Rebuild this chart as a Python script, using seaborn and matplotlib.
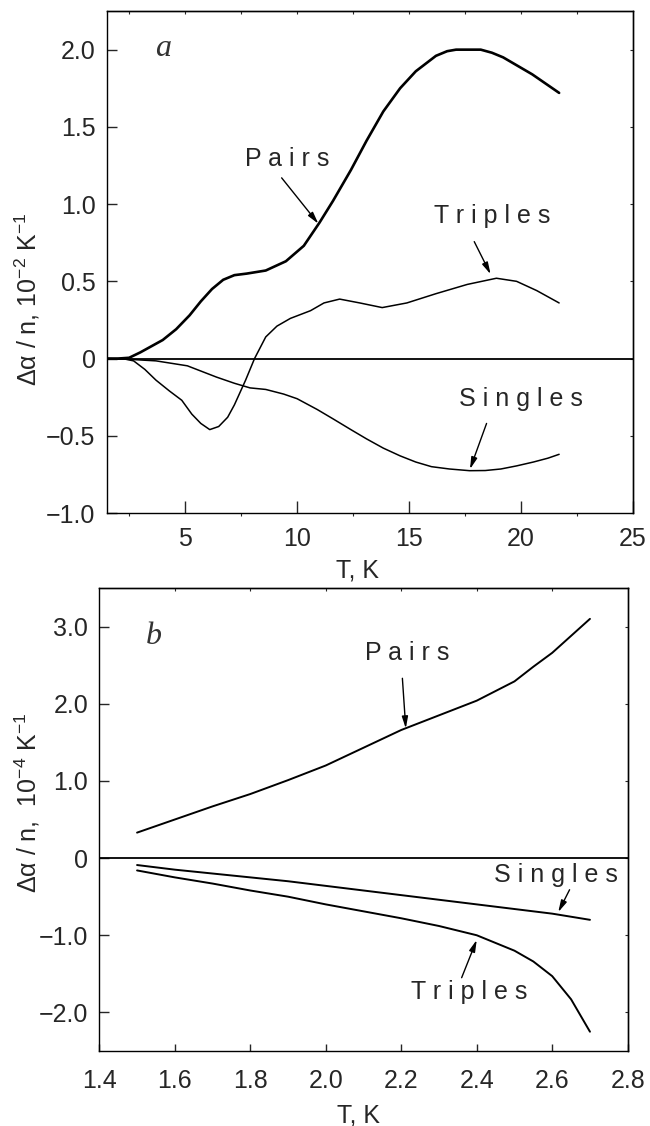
import numpy as np
import pandas as pd
import matplotlib
matplotlib.use("Agg")
import matplotlib.pyplot as plt
import seaborn as sns

# ---------------- data: panel a ----------------
a_pairs_T = [1.5, 2.0, 2.5, 3.0, 3.5, 4.0, 4.6, 5.2, 5.7, 6.2, 6.7, 7.2, 7.75, 8.6, 9.5,
             10.3, 11.0, 11.6, 12.4, 13.1, 13.85, 14.6, 15.3, 16.2, 16.7, 17.1, 18.2, 18.7,
             19.2, 20.5, 21.7]
a_pairs_v = [0.0, 0.0, 0.005, 0.04, 0.08, 0.12, 0.19, 0.28, 0.37, 0.45, 0.51, 0.54, 0.55, 0.57, 0.63,
             0.73, 0.88, 1.02, 1.22, 1.41, 1.60, 1.75, 1.86, 1.96, 1.99, 2.0, 2.0, 1.98,
             1.95, 1.84, 1.72]

a_trip_T = [1.5, 2.2, 2.7, 3.2, 3.7, 4.3, 4.85, 5.3, 5.7, 6.1, 6.5, 6.9, 7.2, 7.7, 8.1, 8.6, 9.1,
            9.7, 10.6, 11.2, 11.9, 12.8, 13.8, 14.9, 16.2, 17.6, 18.9, 19.8, 20.7, 21.7]
a_trip_v = [0.0, 0.0, -0.015, -0.07, -0.14, -0.21, -0.27, -0.36, -0.42, -0.46, -0.44, -0.38, -0.30,
            -0.14, 0.0, 0.14, 0.21, 0.26, 0.31, 0.36, 0.385, 0.36, 0.33, 0.36, 0.42, 0.48, 0.52,
            0.50, 0.44, 0.36]

a_sing_T = [1.5, 2.5, 3.7, 5.1, 6.4, 7.2, 7.9, 8.6, 9.4, 10.0, 10.9, 11.6, 12.4, 13.1, 13.85,
            14.6, 15.3, 16.0, 16.8, 17.7, 18.4, 19.1, 19.8, 20.55, 21.2, 21.7]
a_sing_v = [0.0, -0.005, -0.015, -0.047, -0.12, -0.16, -0.19, -0.20, -0.23, -0.26, -0.33, -0.39,
            -0.46, -0.52, -0.58, -0.63, -0.67, -0.70, -0.715, -0.726, -0.725, -0.715, -0.695,
            -0.67, -0.645, -0.62]

a_xticks = [5, 10, 15, 20, 25]
a_xticklabels = ["5", "10", "15", "20", "25"]
a_yticks = [-1.0, -0.5, 0.0, 0.5, 1.0, 1.5, 2.0]
a_yticklabels = ["\u22121.0", "\u22120.5", "0", "0.5", "1.0", "1.5", "2.0"]

# ---------------- data: panel b ----------------
b_pairs_T = [1.5, 1.6, 1.7, 1.8, 1.9, 2.0, 2.1, 2.2, 2.3, 2.4, 2.5, 2.55, 2.6, 2.7]
b_pairs_v = [0.33, 0.50, 0.67, 0.83, 1.01, 1.20, 1.43, 1.66, 1.85, 2.04, 2.29, 2.48, 2.66, 3.10]

b_sing_T = [1.5, 1.6, 1.7, 1.8, 1.9, 2.0, 2.1, 2.2, 2.3, 2.4, 2.5, 2.6, 2.7]
b_sing_v = [-0.09, -0.15, -0.20, -0.25, -0.30, -0.36, -0.42, -0.48, -0.54, -0.60, -0.66, -0.72, -0.80]

b_trip_T = [1.5, 1.6, 1.7, 1.8, 1.9, 2.0, 2.1, 2.2, 2.3, 2.4, 2.5, 2.55, 2.6, 2.65, 2.7]
b_trip_v = [-0.16, -0.25, -0.33, -0.42, -0.50, -0.60, -0.69, -0.78, -0.88, -1.00, -1.20, -1.34,
            -1.53, -1.83, -2.25]

b_xticks = [1.4, 1.6, 1.8, 2.0, 2.2, 2.4, 2.6, 2.8]
b_xticklabels = ["1.4", "1.6", "1.8", "2.0", "2.2", "2.4", "2.6", "2.8"]
b_yticks = [-2.0, -1.0, 0.0, 1.0, 2.0, 3.0]
b_yticklabels = ["\u22122.0", "\u22121.0", "0", "1.0", "2.0", "3.0"]

# ---------------- style ----------------
sns.set_style("ticks")
plt.rcParams["font.family"] = ["Liberation Sans", "DejaVu Sans"]
plt.rcParams["mathtext.fontset"] = "custom"
plt.rcParams["mathtext.rm"] = "Liberation Sans"
plt.rcParams["mathtext.it"] = "Liberation Sans:italic"
plt.rcParams["mathtext.bf"] = "Liberation Sans:bold"

FS = 18
fig = plt.figure(figsize=(6.5, 11.26), dpi=100)
axA = fig.add_axes([0.1642, 0.5444, 0.8097, 0.4458])
axB = fig.add_axes([0.1528, 0.0666, 0.8129, 0.4112])


def style_axes(ax, xlim, ylim, xticks, xtl, yticks, ytl, minor_x, top_ticks, xlen, ylen, xpad, ypad):
    ax.set_xlim(*xlim)
    ax.set_ylim(*ylim)
    for s in ax.spines.values():
        s.set_linewidth(1.0)
        s.set_color("black")
    ax.set_xticks(xticks)
    ax.set_xticklabels(xtl)
    ax.set_yticks(yticks)
    ax.set_yticklabels(ytl)
    ax.tick_params(axis="x", which="major", direction="in", length=xlen, width=1.0,
                   labelsize=FS, pad=xpad, top=False, bottom=True)
    ax.tick_params(axis="y", which="major", direction="in", length=ylen, width=1.0,
                   labelsize=FS, pad=ypad, right=False, left=True)
    if minor_x is not None:
        ax.set_xticks(minor_x, minor=True)
        ax.tick_params(axis="x", which="minor", direction="out", length=2.5, width=0.8)
    sec = ax.secondary_xaxis("top")
    sec.set_xticks(top_ticks)
    sec.tick_params(direction="in", length=2.5, width=0.8, labeltop=False)
    sec.spines["top"].set_linewidth(1.0)
    secy = ax.secondary_yaxis("right")
    secy.set_yticks(yticks)
    secy.tick_params(direction="in", length=2.5, width=0.8, labelright=False)
    secy.spines["right"].set_linewidth(1.0)


def arrow(ax, tail, head):
    ax.annotate("", xy=head, xytext=tail,
                arrowprops=dict(arrowstyle="-|>,head_length=0.7,head_width=0.18",
                                lw=1.0, color="black", shrinkA=0, shrinkB=0))


# ---------------- panel a ----------------
axA.axhline(0, color="black", lw=1.3, zorder=1)
sns.lineplot(x=a_pairs_T, y=a_pairs_v, ax=axA, color="black", lw=1.9, sort=False, estimator=None)
sns.lineplot(x=a_trip_T, y=a_trip_v, ax=axA, color="black", lw=1.1, sort=False, estimator=None)
sns.lineplot(x=a_sing_T, y=a_sing_v, ax=axA, color="black", lw=1.1, sort=False, estimator=None)

style_axes(axA, (1.5, 25), (-1.0, 2.25), a_xticks, a_xticklabels, a_yticks, a_yticklabels,
           [2.5, 7.5, 12.5, 17.5, 22.5], [2.5, 5, 7.5, 10, 12.5, 15, 17.5, 20, 22.5],
           8.5, 7.5, 10, 8)

axA.text(4.0, 2.01, "a", fontsize=23, style="italic", family="Liberation Serif",
         color="#333333", ha="center", va="center")
axA.text(9.55, 1.29, "P a i r s", fontsize=FS, ha="center", va="center")
arrow(axA, (9.31, 1.17), (10.95, 0.873))
axA.text(18.69, 0.923, "T r i p l e s", fontsize=FS, ha="center", va="center")
arrow(axA, (17.91, 0.757), (18.64, 0.546))
axA.text(19.99, -0.263, "S i n g l e s", fontsize=FS, ha="center", va="center")
arrow(axA, (18.46, -0.42), (17.72, -0.716))

axA.set_xlabel("T, K", fontsize=FS)
axA.set_ylabel("\u0394\u03b1 / n, 10$^{\u22122}$ K$^{\u22121}$", fontsize=FS)
axA.xaxis.set_label_coords(0.477, -0.09)
axA.yaxis.set_label_coords(-0.123, 0.425)

# ---------------- panel b ----------------
axB.axhline(0, color="black", lw=1.3, zorder=1)
sns.lineplot(x=b_pairs_T, y=b_pairs_v, ax=axB, color="black", lw=1.4, sort=False, estimator=None)
sns.lineplot(x=b_sing_T, y=b_sing_v, ax=axB, color="black", lw=1.4, sort=False, estimator=None)
sns.lineplot(x=b_trip_T, y=b_trip_v, ax=axB, color="black", lw=1.4, sort=False, estimator=None)

style_axes(axB, (1.4, 2.8), (-2.5, 3.5), b_xticks, b_xticklabels, b_yticks, b_yticklabels,
           None, [1.6, 1.8, 2.0, 2.2, 2.4, 2.6], 5, 7.5, 13, 8)

axB.text(1.545, 2.87, "b", fontsize=23, style="italic", family="Liberation Serif",
         color="#333333", ha="center", va="center")
axB.text(2.216, 2.655, "P a i r s", fontsize=FS, ha="center", va="center")
arrow(axB, (2.203, 2.33), (2.212, 1.68))
axB.text(2.61, -0.216, "S i n g l e s", fontsize=FS, ha="center", va="center")
arrow(axB, (2.646, -0.41), (2.616, -0.70))
axB.text(2.38, -1.73, "T r i p l e s", fontsize=FS, ha="center", va="center")
arrow(axB, (2.36, -1.55), (2.40, -1.06))

axB.set_xlabel("T, K", fontsize=FS)
axB.set_ylabel("\u0394\u03b1 / n,  10$^{\u22124}$ K$^{\u22121}$", fontsize=FS)
axB.xaxis.set_label_coords(0.49, -0.114)
axB.yaxis.set_label_coords(-0.108, 0.535)

fig.savefig("out.png", dpi=100)
